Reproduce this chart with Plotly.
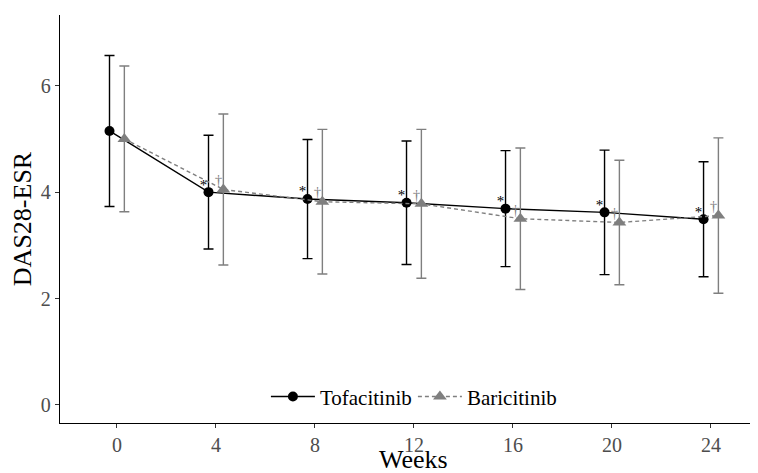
import plotly.graph_objects as go

weeks = [0, 4, 8, 12, 16, 20, 24]
tofa_mean = [5.15, 4.00, 3.87, 3.80, 3.69, 3.62, 3.49]
tofa_sd = [1.42, 1.07, 1.12, 1.16, 1.09, 1.17, 1.08]
bari_mean = [5.00, 4.05, 3.82, 3.78, 3.50, 3.43, 3.56]
bari_sd = [1.37, 1.42, 1.36, 1.40, 1.33, 1.17, 1.46]
tofa_sig = ["", "*", "*", "*", "*", "*", "*"]
bari_sig = ["", "†", "†", "†", "†", "†", "†"]
x_ticks = [0, 4, 8, 12, 16, 20, 24]
y_ticks = [0, 2, 4, 6]

dodge = 0.3
FONT = "'Liberation Serif', 'Times New Roman', serif"
BLACK = "#000000"
GREY = "#7F7F7F"

tx = [w - dodge for w in weeks]
bx = [w + dodge for w in weeks]

fig = go.Figure()
fig.add_trace(go.Scatter(
    x=tx, y=tofa_mean, name="Tofacitinib", mode="lines+markers",
    line=dict(color=BLACK, width=1.4),
    marker=dict(symbol="circle", size=10, color=BLACK),
    error_y=dict(type="data", array=tofa_sd, color=BLACK, thickness=1.4, width=5),
))
fig.add_trace(go.Scatter(
    x=bx, y=bari_mean, name="Baricitinib", mode="lines+markers",
    line=dict(color=GREY, width=1.4, dash="4px,3px"),
    marker=dict(symbol="triangle-up", size=12, color=GREY),
    error_y=dict(type="data", array=bari_sd, color=GREY, thickness=1.4, width=5),
))
fig.add_trace(go.Scatter(
    x=[x - 0.2 for x in tx], y=[m + 0.12 for m in tofa_mean], text=tofa_sig,
    mode="text", textfont=dict(family=FONT, size=15, color=BLACK),
    showlegend=False, hoverinfo="skip",
))
fig.add_trace(go.Scatter(
    x=[x - 0.2 for x in bx], y=[m + 0.15 for m in bari_mean], text=bari_sig,
    mode="text", textfont=dict(family=FONT, size=15, color=GREY),
    showlegend=False, hoverinfo="skip",
))

fig.update_layout(
    width=758, height=473,
    margin=dict(l=52, r=8, t=7, b=58, autoexpand=False),
    plot_bgcolor="white", paper_bgcolor="white",
    font=dict(family=FONT, color=BLACK),
    legend=dict(
        orientation="h", x=0.295, xanchor="left", y=0.064, yanchor="middle",
        itemwidth=44, entrywidth=88,
        font=dict(family=FONT, size=21, color=BLACK), bgcolor="rgba(0,0,0,0)",
    ),
    xaxis=dict(
        range=[-2.3, 25.9], tickvals=x_ticks, ticktext=[str(v) for v in x_ticks],
        showgrid=False, zeroline=False, showline=True, linecolor=BLACK, linewidth=1.3,
        ticks="outside", ticklen=4, tickcolor="#333333", tickwidth=1, automargin=False,
        tickfont=dict(family=FONT, size=20, color="#4D4D4D"),
    ),
    yaxis=dict(
        range=[-0.34, 7.33], tickvals=y_ticks, ticktext=[str(v) for v in y_ticks],
        showgrid=False, zeroline=False, showline=True, linecolor=BLACK, linewidth=1.3,
        ticks="outside", ticklen=4, tickcolor="#333333", tickwidth=1, automargin=False,
        tickfont=dict(family=FONT, size=20, color="#4D4D4D"),
        title=dict(text="DAS28-ESR", font=dict(family=FONT, size=26, color=BLACK), standoff=6),
    ),
    annotations=[dict(
        text="Weeks", xref="paper", yref="paper", x=0.507, y=-0.089,
        xanchor="center", yanchor="middle", showarrow=False,
        font=dict(family=FONT, size=26, color=BLACK),
    )],
)

fig.write_html("out.html")
